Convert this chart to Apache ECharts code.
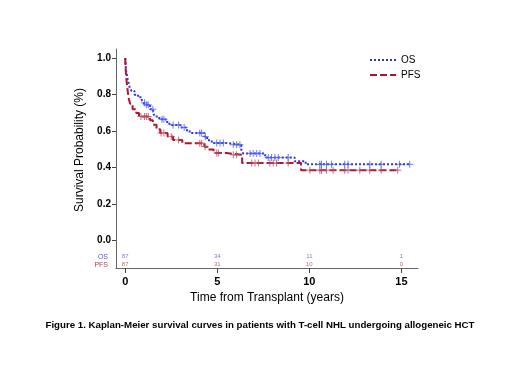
<!DOCTYPE html>
<html>
<head>
<meta charset="utf-8">
<script src="https://cdn.jsdelivr.net/npm/echarts@6/dist/echarts.min.js"></script>
<style>
  html, body { margin: 0; padding: 0; background: #fff; }
</style>
</head>
<body>
<div id="main" style="width: 520px; height: 366px;"></div>
<script>
// Kaplan-Meier steps: [time (years), survival]
var osSteps = [
  [0, 1.0], [0.02, 0.96], [0.05, 0.93], [0.09, 0.91], [0.14, 0.88], [0.2, 0.86],
  [0.25, 0.835], [0.35, 0.82], [0.5, 0.80], [0.7, 0.785], [0.9, 0.77], [1.0, 0.755],
  [1.08, 0.744], [1.35, 0.72], [1.52, 0.70], [1.6, 0.68], [1.85, 0.665], [2.2, 0.65],
  [2.4, 0.634], [3.0, 0.62], [3.3, 0.605], [3.5, 0.59], [4.3, 0.57], [4.45, 0.55],
  [4.7, 0.535], [5.5, 0.525], [6.3, 0.50], [6.4, 0.478], [7.6, 0.455], [9.2, 0.435],
  [9.8, 0.418], [15.5, 0.418]
];
var pfsSteps = [
  [0, 1.0], [0.02, 0.95], [0.05, 0.90], [0.1, 0.85], [0.15, 0.81], [0.2, 0.775],
  [0.27, 0.75], [0.4, 0.72], [0.6, 0.70], [0.75, 0.68], [1.35, 0.66], [1.5, 0.635],
  [1.7, 0.61], [1.9, 0.59], [2.3, 0.57], [2.6, 0.552], [3.1, 0.534], [4.3, 0.515],
  [4.45, 0.50], [4.8, 0.48], [5.5, 0.47], [6.35, 0.425], [9.55, 0.386], [14.8, 0.386]
];
// censoring times
var osCensor = [1.05, 1.15, 1.25, 1.5, 2.0, 2.1, 2.6, 2.9, 3.2, 4.05, 4.15, 4.35, 4.97, 5.15,
  5.33, 5.87, 6.05, 6.23, 6.78, 6.95, 7.14, 7.32, 7.77, 7.95, 8.13, 8.31, 8.85, 10.57,
  10.66, 10.93, 11.2, 11.92, 12.1, 13.28, 13.9, 14.9, 15.45];
var pfsCensor = [0.85, 1.05, 1.15, 1.25, 1.95, 2.1, 2.5, 2.9, 4.05, 4.15, 4.34, 4.97, 5.06,
  5.87, 6.05, 6.87, 7.05, 7.23, 7.86, 8.04, 8.22, 8.85, 10.03, 10.57, 10.66, 10.93,
  11.29, 11.92, 12.1, 12.74, 13.28, 13.9, 14.8];
// number at risk
var riskTimes = [0, 5, 10, 15];
var osRisk = [87, 34, 11, 1];
var pfsRisk = [87, 31, 10, 0];
var yTicks = [0, 0.2, 0.4, 0.6, 0.8, 1.0];
var xTicks = [0, 5, 10, 15];

function survAt(steps, t) {
  var s = steps[0][1];
  for (var i = 0; i < steps.length; i++) {
    if (steps[i][0] <= t) s = steps[i][1];
  }
  return s;
}
function censorData(steps, times) {
  return times.map(function (t) { return [t, survAt(steps, t)]; });
}
function riskData(counts, y) {
  return counts.map(function (c, i) { return [riskTimes[i], y, c]; });
}

var osColor = '#2b35d8', pfsColor = '#b3122e';
var osMark = '#4a5cf0', pfsMark = '#b8485e';
var osRiskColor = '#5a5ac8', pfsRiskColor = '#a8445a';

function crossSeries(data, color) {
  return [
    { type: 'scatter', data: data, symbol: 'rect', symbolSize: [7, 1], silent: true,
      itemStyle: { color: color }, z: 3 },
    { type: 'scatter', data: data, symbol: 'rect', symbolSize: [1, 7], silent: true,
      itemStyle: { color: color }, z: 3 }
  ];
}
function riskSeries(data, color) {
  return {
    type: 'scatter', data: data, symbolSize: 0, silent: true, clip: false,
    label: {
      show: true, position: 'inside', color: color, fontSize: 6,
      fontFamily: 'Liberation Sans, Arial',
      formatter: function (p) { return String(p.value[2]); }
    }
  };
}

var chart = echarts.init(document.getElementById('main'));
var option = {
  backgroundColor: '#fff',
  animation: false,
  title: {
    text: 'Figure 1. Kaplan-Meier survival curves in patients with T-cell NHL undergoing allogeneic HCT',
    left: 'center', top: 315,
    textStyle: { fontSize: 9.7, fontWeight: 'bold', color: '#000', fontFamily: 'Liberation Sans, Arial' }
  },
  legend: {
    orient: 'vertical', left: 364, top: 50, itemWidth: 26, itemHeight: 8, itemGap: 5,
    data: ['OS', 'PFS'],
    itemStyle: { color: 'transparent', borderWidth: 0, opacity: 0 },
    textStyle: { fontSize: 10, color: '#000', fontFamily: 'Liberation Sans, Arial' }
  },
  grid: { left: 116, right: 102, top: 49, bottom: 98 },
  xAxis: {
    type: 'value', min: -0.5, max: 15.9,
    name: 'Time from Transplant (years)', nameLocation: 'middle', nameGap: 23,
    nameTextStyle: { fontSize: 12, color: '#000', fontFamily: 'Liberation Sans, Arial' },
    axisLine: { show: true, onZero: false, lineStyle: { color: '#666', width: 1 } },
    axisTick: { show: true, length: 5, customValues: xTicks, lineStyle: { color: '#444' } },
    axisLabel: { customValues: xTicks, margin: 8, fontSize: 11, fontWeight: 'bold', color: '#000',
      fontFamily: 'Liberation Sans, Arial' },
    splitLine: { show: false }
  },
  yAxis: {
    type: 'value', min: -0.15, max: 1.05,
    axisLine: { show: true, onZero: false, lineStyle: { color: '#666', width: 1 } },
    axisTick: { show: true, length: 4, customValues: yTicks, lineStyle: { color: '#444' } },
    axisLabel: { customValues: yTicks, margin: 5, fontSize: 10, fontWeight: 'bold', color: '#000',
      fontFamily: 'Liberation Sans, Arial',
      formatter: function (v) { return v.toFixed(1); } },
    splitLine: { show: false }
  },
  graphic: [
    { type: 'text', x: 80, y: 150, rotation: Math.PI / 2,
      style: { text: 'Survival Probability (%)', fontSize: 12, fill: '#000',
        fontFamily: 'Liberation Sans, Arial', align: 'center', verticalAlign: 'middle' } },
    { type: 'text', x: 108, y: 257,
      style: { text: 'OS', fontSize: 7, fill: osRiskColor, fontFamily: 'Liberation Sans, Arial',
        align: 'right', verticalAlign: 'middle' } },
    { type: 'text', x: 108, y: 265,
      style: { text: 'PFS', fontSize: 7, fill: pfsRiskColor, fontFamily: 'Liberation Sans, Arial',
        align: 'right', verticalAlign: 'middle' } }
  ],
  series: [
    { name: 'OS', type: 'line', step: 'end', data: osSteps, symbol: 'none', z: 2,
      lineStyle: { color: osColor, width: 2, type: [2, 2] }, itemStyle: { color: osColor } },
    { name: 'PFS', type: 'line', step: 'end', data: pfsSteps, symbol: 'none', z: 2,
      lineStyle: { color: pfsColor, width: 2, type: [7, 3] }, itemStyle: { color: pfsColor } }
  ]
    .concat(crossSeries(censorData(osSteps, osCensor), osMark))
    .concat(crossSeries(censorData(pfsSteps, pfsCensor), pfsMark))
    .concat([riskSeries(riskData(osRisk, -0.088), osRiskColor),
             riskSeries(riskData(pfsRisk, -0.132), pfsRiskColor)])
};
chart.setOption(option);
</script>
</body>
</html>
